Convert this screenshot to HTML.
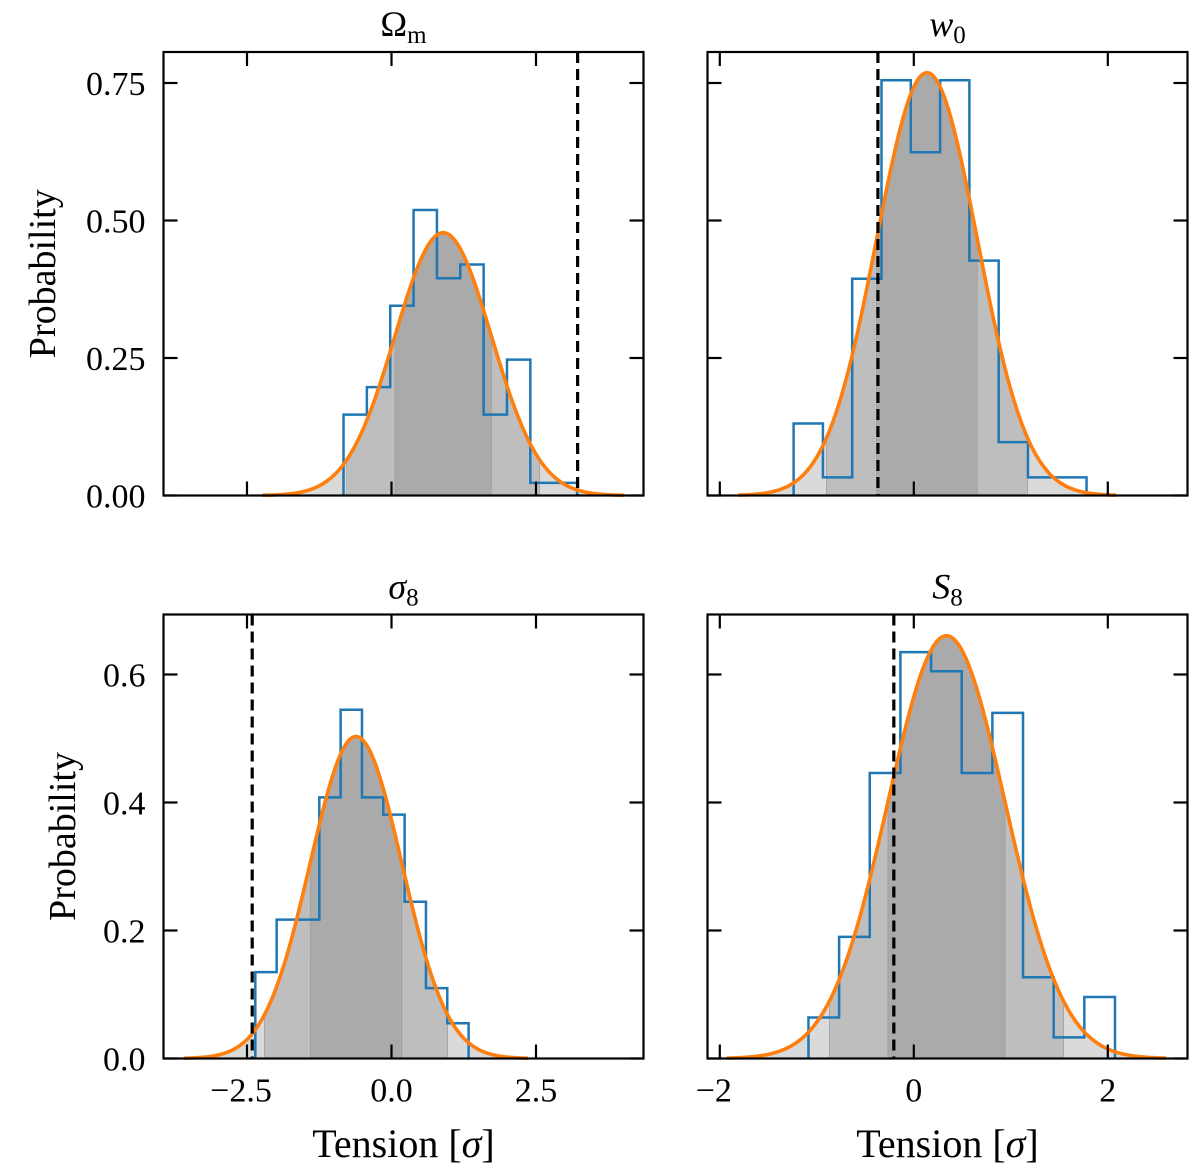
<!DOCTYPE html>
<html><head><meta charset="utf-8"><style>
body{margin:0;background:#fff;}
svg{display:block;font-family:"Liberation Serif","DejaVu Serif",serif;}
</style></head><body>
<svg id="fig" width="1200" height="1176" viewBox="0 0 1200 1176" xmlns="http://www.w3.org/2000/svg"></svg>
<script>
// ---- data ----
const omStart = -0.83, omWidth = 0.404;
const omCounts = [0.147,0.197,0.345,0.519,0.395,0.42,0.147,0.247,0.023,0.023];
const omMu = 0.894, omSigma = 0.835, omTrue = 3.22;

const w0Start = -1.239, w0Width = 0.302;
const w0Counts = [0.131,0.033,0.394,0.755,0.624,0.755,0.427,0.097,0.033,0.033];
const w0Mu = 0.136, w0Sigma = 0.519, w0True = -0.37;

const s8Start = -2.356, s8Width = 0.369;
const s8Counts = [0.135,0.217,0.217,0.408,0.545,0.408,0.381,0.245,0.11,0.055];
const s8Mu = -0.614, s8Sigma = 0.793, s8True = -2.41;

const S8Start = -1.086, S8Width = 0.316;
const S8Counts = [0.064,0.19,0.446,0.635,0.605,0.446,0.54,0.127,0.033,0.096];
const S8Mu = 0.337, S8Sigma = 0.604, S8True = -0.206;

const leftXTicks = [-2.5, 0.0, 2.5];
const leftXTickLabels = ["\u22122.5","0.0","2.5"];
const rightXTicks = [-2, 0, 2];
const rightXTickLabels = ["\u22122","0","2"];
const topYTicks = [0, 0.25, 0.5, 0.75];
const topYTickLabels = ["0.00","0.25","0.50","0.75"];
const botYTicks = [0, 0.2, 0.4, 0.6];
const botYTickLabels = ["0.0","0.2","0.4","0.6"];

const NS = "http://www.w3.org/2000/svg";
const svg = document.getElementById('fig');
function mk(tag, attrs, parent){ const e=document.createElementNS(NS,tag); for(const k in attrs) e.setAttribute(k,attrs[k]); (parent||svg).appendChild(e); return e; }

function panel(o){
  const g = mk('g',{});
  
  
  const X = v => o.x0 + (v - o.xv0) * o.xs;
  const Y = v => o.yb - v * o.ys;
  const gauss = v => Math.exp(-0.5*((v-o.mu)/o.sigma)**2)/(Math.sqrt(2*Math.PI)*o.sigma);
  const bands = [[3.75,'#dadada'],[2,'#bebebe'],[1,'#aaaaaa']];
  bands.forEach(([k,col],i)=>{
    const a=o.mu-k*o.sigma, b=o.mu+k*o.sigma; let d=`M${X(a)},${Y(0)}`;
    for(let j=0;j<=200;j++){const v=a+(b-a)*j/200; d+=`L${X(v).toFixed(2)},${Y(gauss(v)).toFixed(2)}`;}
    d+=`L${X(b)},${Y(0)}Z`;
    const p=mk('path',{d:d,fill:col,stroke:i>0?'#999':'none','stroke-width':0.6},g);
    
    
  });
  let d=`M${X(o.start)},${Y(0)}`;
  o.counts.forEach((c,i)=>{ const a=o.start+i*o.width, b=a+o.width; d+=`L${X(a)},${Y(c)}L${X(b)},${Y(c)}`; });
  d+=`L${X(o.start+o.counts.length*o.width)},${Y(0)}`;
  const h=mk('path',{d:d,fill:'none',stroke:'#1f77b4','stroke-width':2.5},g);
  
  
  const a=o.mu-3.75*o.sigma, b=o.mu+3.75*o.sigma; let cd='';
  for(let j=0;j<=300;j++){const v=a+(b-a)*j/300; cd+=(j?'L':'M')+X(v).toFixed(2)+','+Y(gauss(v)).toFixed(2);}
  const c=mk('path',{d:cd,fill:'none',stroke:'#ff7f0e','stroke-width':3.6},g);
  
  
  const l=mk('line',{x1:X(o.truth),x2:X(o.truth),y1:o.yt,y2:o.yb,stroke:'#000','stroke-width':3.2,'stroke-dasharray':'11,6'},g);
  
  
  const f=mk('rect',{x:o.xl,y:o.yt,width:o.xr-o.xl,height:o.yb-o.yt,fill:'none',stroke:'#000','stroke-width':2.2},g);
  
  
  o.xticks.forEach((t,i)=>{
    const x=X(t);
    mk('line',{x1:x,x2:x,y1:o.yb,y2:o.yb-14,stroke:'#000','stroke-width':2.2},g);
    mk('line',{x1:x,x2:x,y1:o.yt,y2:o.yt+14,stroke:'#000','stroke-width':2.2},g);
    if(o.xlabels){ const t2=mk('text',{x:x-(o.xlabels[i].charAt(0)==='\u2212'?6:0),y:o.yb+43,'font-size':34,'text-anchor':'middle'},g); t2.textContent=o.xlabels[i];
        }
  });
  o.yticks.forEach((t,i)=>{
    const y=Y(t);
    mk('line',{x1:o.xl,x2:o.xl+14,y1:y,y2:y,stroke:'#000','stroke-width':2.2},g);
    mk('line',{x1:o.xr,x2:o.xr-14,y1:y,y2:y,stroke:'#000','stroke-width':2.2},g);
    if(o.ylabels){ const t2=mk('text',{x:o.xl-18,y:y+12,'font-size':34,'text-anchor':'end'},g); t2.textContent=o.ylabels[i];
        }
  });
  const tt=mk('text',{x:(o.xl+o.xr)/2,y:o.yt-16,'font-size':36,'text-anchor':'middle'},g);
  tt.innerHTML=o.title;
  
  
  if(o.ylab){ const yl=mk('text',{x:0,y:0,'font-size':38,'text-anchor':'middle',transform:`translate(${o.ylabX},${(o.yt+o.yb)/2}) rotate(-90)`},g);
    yl.textContent='Probability';   }
  if(o.xlab){ const xl=mk('text',{x:(o.xl+o.xr)/2,y:1157,'font-size':40,'text-anchor':'middle'},g);
    xl.innerHTML='Tension [<tspan font-style="italic">σ</tspan>]';   }
}

const topY = {yt:52, yb:495.5, ys:550};
const botY = {yt:614.5, yb:1058.5, ys:640};
const leftX = {xl:163.5, xr:643.5, x0:391.5, xv0:0, xs:57.8};
const rightX = {xl:707.5, xr:1187.5, x0:913.8, xv0:0, xs:97};

panel(Object.assign({name:'panel-omega-m',title:'Ω<tspan font-size="25" dy="7">m</tspan>',start:omStart,width:omWidth,counts:omCounts,mu:omMu,sigma:omSigma,truth:omTrue,
  xticks:leftXTicks,yticks:topYTicks,ylabels:topYTickLabels,ylab:true,ylabX:55},topY,leftX));
panel(Object.assign({name:'panel-w0',title:'<tspan font-style="italic">w</tspan><tspan font-size="25" dy="7">0</tspan>',start:w0Start,width:w0Width,counts:w0Counts,mu:w0Mu,sigma:w0Sigma,truth:w0True,
  xticks:rightXTicks,yticks:topYTicks},topY,rightX));
panel(Object.assign({name:'panel-sigma8',title:'<tspan font-style="italic">σ</tspan><tspan font-size="25" dy="7">8</tspan>',start:s8Start,width:s8Width,counts:s8Counts,mu:s8Mu,sigma:s8Sigma,truth:s8True,
  xticks:leftXTicks,xlabels:leftXTickLabels,yticks:botYTicks,ylabels:botYTickLabels,ylab:true,ylabX:75,xlab:true},botY,leftX));
panel(Object.assign({name:'panel-S8',title:'<tspan font-style="italic">S</tspan><tspan font-size="25" dy="7">8</tspan>',start:S8Start,width:S8Width,counts:S8Counts,mu:S8Mu,sigma:S8Sigma,truth:S8True,
  xticks:rightXTicks,xlabels:rightXTickLabels,yticks:botYTicks,xlab:true},botY,rightX));
</script>
</body></html>
